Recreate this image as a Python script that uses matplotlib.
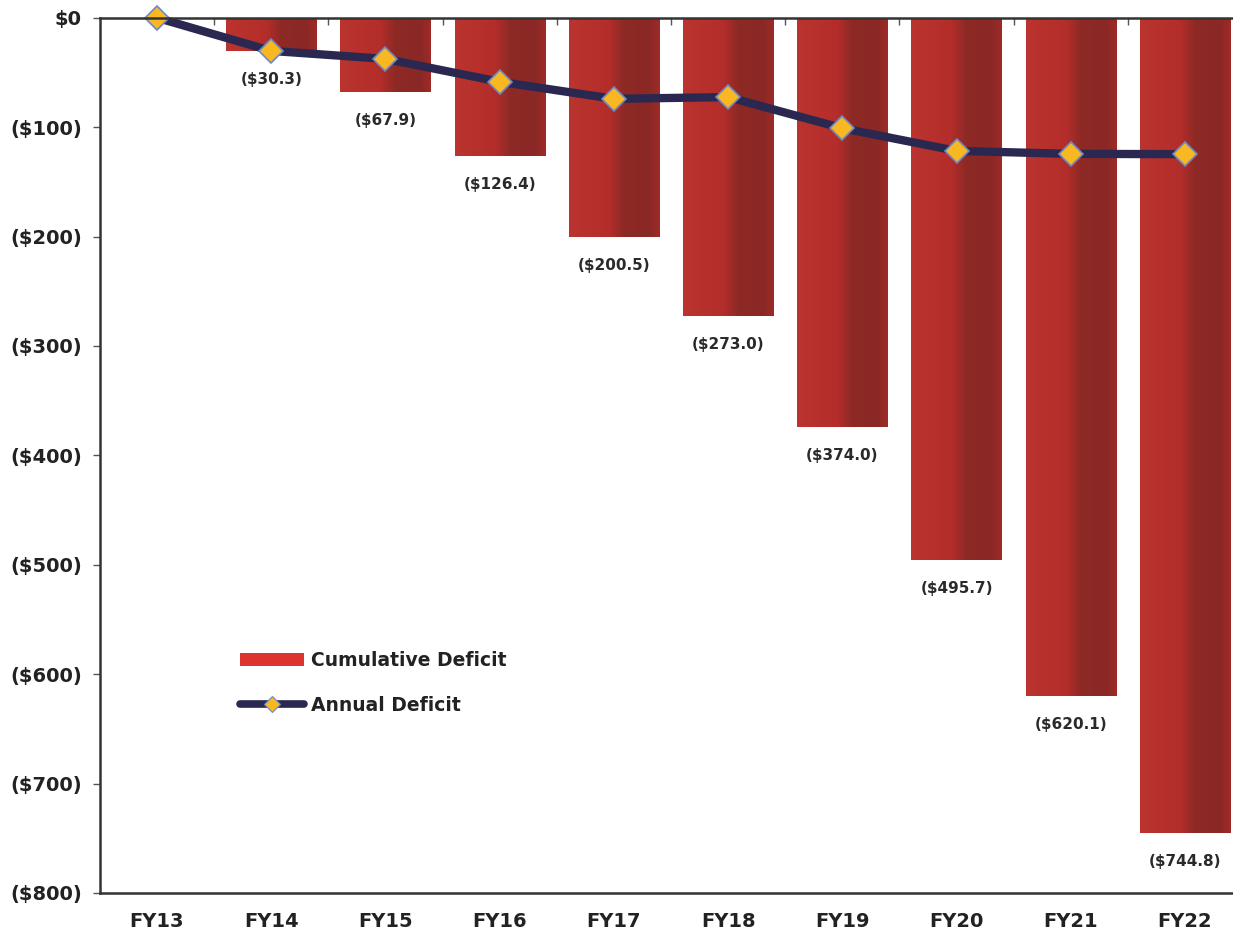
import matplotlib
matplotlib.use("Agg")
import matplotlib.pyplot as plt
import numpy as np
from matplotlib.colors import LinearSegmentedColormap
from matplotlib.patches import Patch
from matplotlib.lines import Line2D

categories = ["FY13", "FY14", "FY15", "FY16", "FY17", "FY18", "FY19", "FY20", "FY21", "FY22"]
cumulative = [0.0, -30.3, -67.9, -126.4, -200.5, -273.0, -374.0, -495.7, -620.1, -744.8]
annual = [0.0, -30.3, -37.6, -58.5, -74.1, -72.5, -101.0, -121.7, -124.4, -124.7]
ytick_vals = [0, -100, -200, -300, -400, -500, -600, -700, -800]
ytick_labels = ["$0", "($100)", "($200)", "($300)", "($400)", "($500)", "($600)", "($700)", "($800)"]

FONT = ["DejaVu Sans Condensed", "DejaVu Sans"]
plt.rcParams["font.family"] = FONT

fig = plt.figure(figsize=(12.33, 9.35), dpi=100)
ax = fig.add_axes([0.081, 0.045, 0.919, 0.936])

x = np.arange(len(categories))
width = 0.79
bars = ax.bar(x, cumulative, width=width, color="#b22d29", zorder=2)

cmap = LinearSegmentedColormap.from_list(
    "barg",
    [(0.0, "#bb342f"), (0.45, "#b32d2a"), (0.6, "#8e2a26"), (0.88, "#8a2825"), (1.0, "#9e2b28")],
)
grad = np.linspace(0, 1, 256).reshape(1, -1)
for b in bars:
    h = b.get_height()
    if h == 0:
        continue
    x0 = b.get_x()
    im = ax.imshow(grad, cmap=cmap, aspect="auto", zorder=2.5,
                   extent=(x0, x0 + b.get_width(), b.get_y() + h, b.get_y()),
                   interpolation="bilinear")
    im.set_clip_path(b)

# data labels
for xi, v in zip(x[1:], cumulative[1:]):
    ax.annotate(f"(${abs(v):.1f})", (xi, v), xytext=(0, -20.5), textcoords="offset points",
                ha="center", va="center", fontsize=11, fontweight="bold", color="#2a2a2a")

ax.plot(x, annual, color="#2a2850", lw=6, zorder=4, solid_capstyle="round",
        marker="D", markersize=12.5, markerfacecolor="#f9b822",
        markeredgecolor="#6d88c4", markeredgewidth=1.2, clip_on=False)

ax.set_xlim(-0.5, 9.42)
ax.set_ylim(-800, 0)

ax.set_yticks(ytick_vals)
ax.set_yticklabels(ytick_labels, fontsize=14, fontweight="bold", color="#222222")
ax.set_xticks(x)
ax.set_xticklabels(categories, fontsize=14, fontweight="bold", color="#222222")
ax.set_xticks(np.arange(0.5, 9.0, 1.0), minor=True)
ax.tick_params(axis="x", which="major", length=0, pad=14, bottom=True, top=False)
ax.tick_params(axis="x", which="minor", length=5, direction="in", top=True, bottom=False,
               color="#555555", width=1)
ax.tick_params(axis="y", which="major", length=5, direction="out", color="#555555", width=1, pad=8)

for s in ["top", "bottom", "left"]:
    ax.spines[s].set_color("#333333")
    ax.spines[s].set_linewidth(1.8)
ax.spines["right"].set_visible(False)
ax.spines["top"].set_zorder(5)

handles = [
    Patch(facecolor="#dd3430", edgecolor="none"),
    Line2D([0], [0], color="#2a2850", lw=5.5, solid_capstyle="round", marker="D", markersize=8,
           markerfacecolor="#f9b822", markeredgecolor="#6d88c4", markeredgewidth=0.8),
]
leg = ax.legend(handles, ["Cumulative Deficit", "Annual Deficit"], loc="upper left",
                bbox_to_anchor=(0.109, 0.296), frameon=False, handlelength=3.4,
                handletextpad=0.35, labelspacing=1.4,
                prop={"family": FONT, "weight": "bold", "size": 13.5})
for t in leg.get_texts():
    t.set_color("#222222")

fig.savefig("out.png", dpi=100)
